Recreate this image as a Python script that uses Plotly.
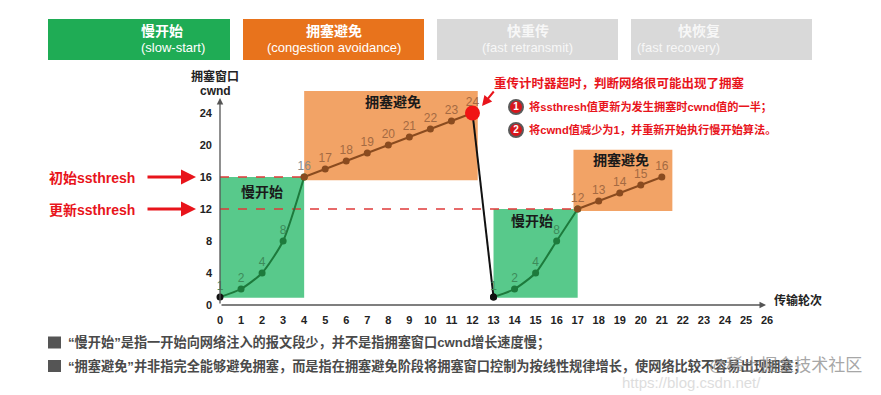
import plotly.graph_objects as go

# ---------------- data ----------------
rounds = list(range(22))
cwnd = [1, 2, 4, 8, 16, 17, 18, 19, 20, 21, 22, 23, 24, 1, 2, 4, 8, 12, 13, 14, 15, 16]
ss1 = (0, 5)     # slow start 1 (index slice)
ca1 = (4, 13)    # congestion avoidance 1
drop = (12, 14)  # timeout drop
ss2 = (13, 18)   # slow start 2
ca2 = (17, 22)   # congestion avoidance 2
x_ticks = list(range(27))
y_ticks = [0, 4, 8, 12, 16, 20, 24]
ssthresh_init = 16
ssthresh_new = 12

# ---------------- geometry helpers (page pixels; page body has 8px margin) ----------------
W, H = 881, 395
OFF = 8
X0PX, UX = 220, 21.04
Y0PX, UY = 305, 8.0
def px2x(p): return (p - X0PX) / UX
def py2y(p): return (Y0PX - p) / UY
def pxp(p): return (p - OFF) / W
def pyp(p): return 1 - (p - OFF) / H

CJK = "Liberation Sans, Arial, Noto Sans CJK SC"
GREEN_L = "#1d7a3c"
BROWN_L = "#8a4b1f"
RED = "#e8141b"

fig = go.Figure()

def seg(sl, color, spline=False, first_black=False):
    xs = rounds[sl[0]:sl[1]]
    ys = cwnd[sl[0]:sl[1]]
    mc = [color] * len(xs)
    if first_black:
        mc[0] = "#111"
    fig.add_trace(go.Scatter(
        x=xs, y=ys, mode="lines+markers", cliponaxis=False,
        line=dict(color=color, width=2, shape="spline" if spline else "linear", smoothing=0.6),
        marker=dict(color=mc, size=7), hoverinfo="skip", showlegend=False))

seg(ss1, GREEN_L, spline=True, first_black=True)
seg(ca1, BROWN_L)
seg(drop, "#111")
seg(ss2, GREEN_L, spline=True, first_black=True)
seg(ca2, BROWN_L)

# red timeout circle
fig.add_trace(go.Scatter(
    x=[rounds[12]], y=[cwnd[12]], mode="markers", cliponaxis=False,
    marker=dict(color="#f01414", size=15), hoverinfo="skip", showlegend=False))

# value labels
lab_col = []
for i in range(len(rounds)):
    if ss1[0] <= i < ss1[1] - 1 or ss2[0] <= i < ss2[1] - 1:
        lab_col.append("#3d8b5a")
    elif i == ss1[1] - 1:
        lab_col.append("#8a8a8a")
    else:
        lab_col.append("#a46a42")
fig.add_trace(go.Scatter(
    x=rounds, y=cwnd, mode="markers+text", text=[str(v) for v in cwnd],
    textposition="top center", cliponaxis=False,
    marker=dict(size=5, opacity=0),
    textfont=dict(family=CJK, size=12, color=lab_col),
    hoverinfo="skip", showlegend=False))

# numbered bullets
fig.add_trace(go.Scatter(
    x=[px2x(516), px2x(516)], y=[py2y(107), py2y(130)], mode="markers+text",
    text=["1", "2"], textposition="middle center", cliponaxis=False,
    textfont=dict(family=CJK, size=10, color="white", weight="bold"),
    marker=dict(color="#d8161c", size=14, line=dict(color="#5a5a5a", width=2)),
    hoverinfo="skip", showlegend=False))

shapes = []
# phase regions
shapes.append(dict(type="rect", xref="x", yref="y", x0=rounds[0], x1=rounds[4], y0=0.9, y1=ssthresh_init,
                   fillcolor="#58c98b", line=dict(width=0), layer="below"))
shapes.append(dict(type="rect", xref="x", yref="y", x0=rounds[4], x1=12.25, y0=15.6, y1=26.75,
                   fillcolor="#f2a366", line=dict(width=0), layer="below"))
shapes.append(dict(type="rect", xref="x", yref="y", x0=rounds[13], x1=rounds[17], y0=0.9, y1=ssthresh_new,
                   fillcolor="#58c98b", line=dict(width=0), layer="below"))
shapes.append(dict(type="rect", xref="x", yref="y", x0=16.8, x1=21.5, y0=11.75, y1=19.4,
                   fillcolor="#f2a366", line=dict(width=0), layer="below"))
# ssthresh dashed lines
shapes.append(dict(type="line", xref="x", yref="y", x0=0, x1=rounds[4], y0=ssthresh_init, y1=ssthresh_init,
                   line=dict(color="#e03a3a", width=1.5, dash="dash"), layer="below"))
shapes.append(dict(type="line", xref="x", yref="y", x0=0, x1=rounds[17], y0=ssthresh_new, y1=ssthresh_new,
                   line=dict(color="#e03a3a", width=1.5, dash="dash"), layer="below"))

# header boxes
headers = [
    ("慢开始", "(slow-start)", 48, 230, "#1fac55", "white"),
    ("拥塞避免", "(congestion avoidance)", 243, 424, "#e8731c", "white"),
    ("快重传", "(fast retransmit)", 437, 618, "#d9d9d9", "#f7f7f7"),
    ("快恢复", "(fast recovery)", 631, 812, "#d9d9d9", "#f7f7f7"),
]
annotations = []
for zh, en, x0, x1, c, tc in headers:
    shapes.append(dict(type="rect", xref="paper", yref="paper", x0=pxp(x0), x1=pxp(x1),
                       y0=pyp(60), y1=pyp(19), fillcolor=c, line=dict(width=0), layer="below"))
    cx = (x0 + x1) / 2
    annotations.append(dict(x=pxp(cx), y=pyp(31), xref="paper", yref="paper", text=zh, showarrow=False,
                            yanchor="middle", font=dict(family=CJK, size=14, color=tc, weight="bold")))
    annotations.append(dict(x=pxp(cx), y=pyp(48), xref="paper", yref="paper", text=en, showarrow=False,
                            yanchor="middle", font=dict(family=CJK, size=13, color=tc)))

# bottom bullets squares
for yy in (342.5, 366):
    shapes.append(dict(type="rect", xref="paper", yref="paper", x0=pxp(48), x1=pxp(61),
                       y0=pyp(yy + 6), y1=pyp(yy - 6), fillcolor="#555555", line=dict(width=0)))

def txt(x, y, s, size=12, color="#222", bold=True, xanchor="center", opacity=1.0):
    annotations.append(dict(x=pxp(x), y=pyp(y), xref="paper", yref="paper", text=s, showarrow=False,
                            xanchor=xanchor, yanchor="middle", opacity=opacity,
                            font=dict(family=CJK, size=size, color=color, weight="bold" if bold else "normal")))

# axes arrows
annotations.append(dict(x=0, y=py2y(98), ax=0, ay=0, xref="x", yref="y", axref="x", ayref="y", text="",
                        showarrow=True, arrowhead=2, arrowsize=1, arrowwidth=1.3, arrowcolor="#555"))
annotations.append(dict(x=px2x(766), y=0, ax=0, ay=0, xref="x", yref="y", axref="x", ayref="y", text="",
                        showarrow=True, arrowhead=2, arrowsize=1, arrowwidth=1.3, arrowcolor="#555"))

txt(215, 76, "拥塞窗口", 12)
txt(215, 91, "cwnd", 12)
txt(772, 300, "传输轮次", 12, xanchor="left")

# region labels
txt(262, 192, "慢开始", 14, "#1a1a1a")
txt(393, 102, "拥塞避免", 14, "#1a1a1a")
txt(532, 221, "慢开始", 14, "#1a1a1a")
txt(621, 160, "拥塞避免", 14, "#1a1a1a")

# ssthresh arrows on the left
for yv, lab in ((ssthresh_init, "初始ssthresh"), (ssthresh_new, "更新ssthresh")):
    annotations.append(dict(x=px2x(196), y=yv, ax=px2x(146), ay=yv, xref="x", yref="y", axref="x", ayref="y",
                            text="", showarrow=True, arrowhead=2, arrowsize=1, arrowwidth=3, arrowcolor=RED))
    txt(92, Y0PX - yv * UY + 1, lab, 14, RED)

# timeout notes
txt(492, 83, "重传计时器超时，判断网络很可能出现了拥塞", 12.5, RED, xanchor="left")
txt(527, 107, "将ssthresh值更新为发生拥塞时cwnd值的一半；", 11.2, RED, xanchor="left")
txt(527, 130, "将cwnd值减少为1，并重新开始执行慢开始算法。", 11.2, RED, xanchor="left")
annotations.append(dict(x=px2x(482), y=py2y(106), ax=13, ay=-16, xref="x", yref="y", text="",
                        showarrow=True, arrowhead=2, arrowsize=1, arrowwidth=2, arrowcolor=RED))

# bottom notes
txt(66, 342.5, "“慢开始”是指一开始向网络注入的报文段少，并不是指拥塞窗口cwnd增长速度慢；", 13.2, "#4a4a4a", xanchor="left")
txt(66, 366, "“拥塞避免”并非指完全能够避免拥塞，而是指在拥塞避免阶段将拥塞窗口控制为按线性规律增长，使网络比较不容易出现拥塞；",
    13.2, "#4a4a4a", xanchor="left")
txt(707, 365, "@稀土掘金技术社区", 17, "#8a8a8a", bold=False, xanchor="left", opacity=0.75)
txt(620, 382, "https://blog.csdn.net/", 15, "#d0d0d0", bold=False, xanchor="left", opacity=0.7)

fig.update_layout(
    width=W, height=H, margin=dict(l=0, r=0, t=0, b=0, pad=0),
    paper_bgcolor="white", plot_bgcolor="white",
    shapes=shapes, annotations=annotations, showlegend=False,
    xaxis=dict(range=[px2x(OFF), px2x(OFF + W)], showgrid=False, zeroline=False, showline=False,
               tickvals=x_ticks, ticktext=[str(v) for v in x_ticks], ticks="",
               anchor="free", position=(OFF + H - Y0PX) / H, ticklabelstandoff=7,
               tickfont=dict(family=CJK, size=11, color="#222", weight="bold"), automargin=False),
    yaxis=dict(range=[py2y(OFF + H), py2y(OFF)], showgrid=False, zeroline=False, showline=False,
               tickvals=y_ticks, ticktext=[str(v) for v in y_ticks], ticks="",
               anchor="free", position=(X0PX - OFF) / W, ticklabelstandoff=8,
               tickfont=dict(family=CJK, size=11, color="#222", weight="bold"), automargin=False),
)

fig.write_html("out.html")
